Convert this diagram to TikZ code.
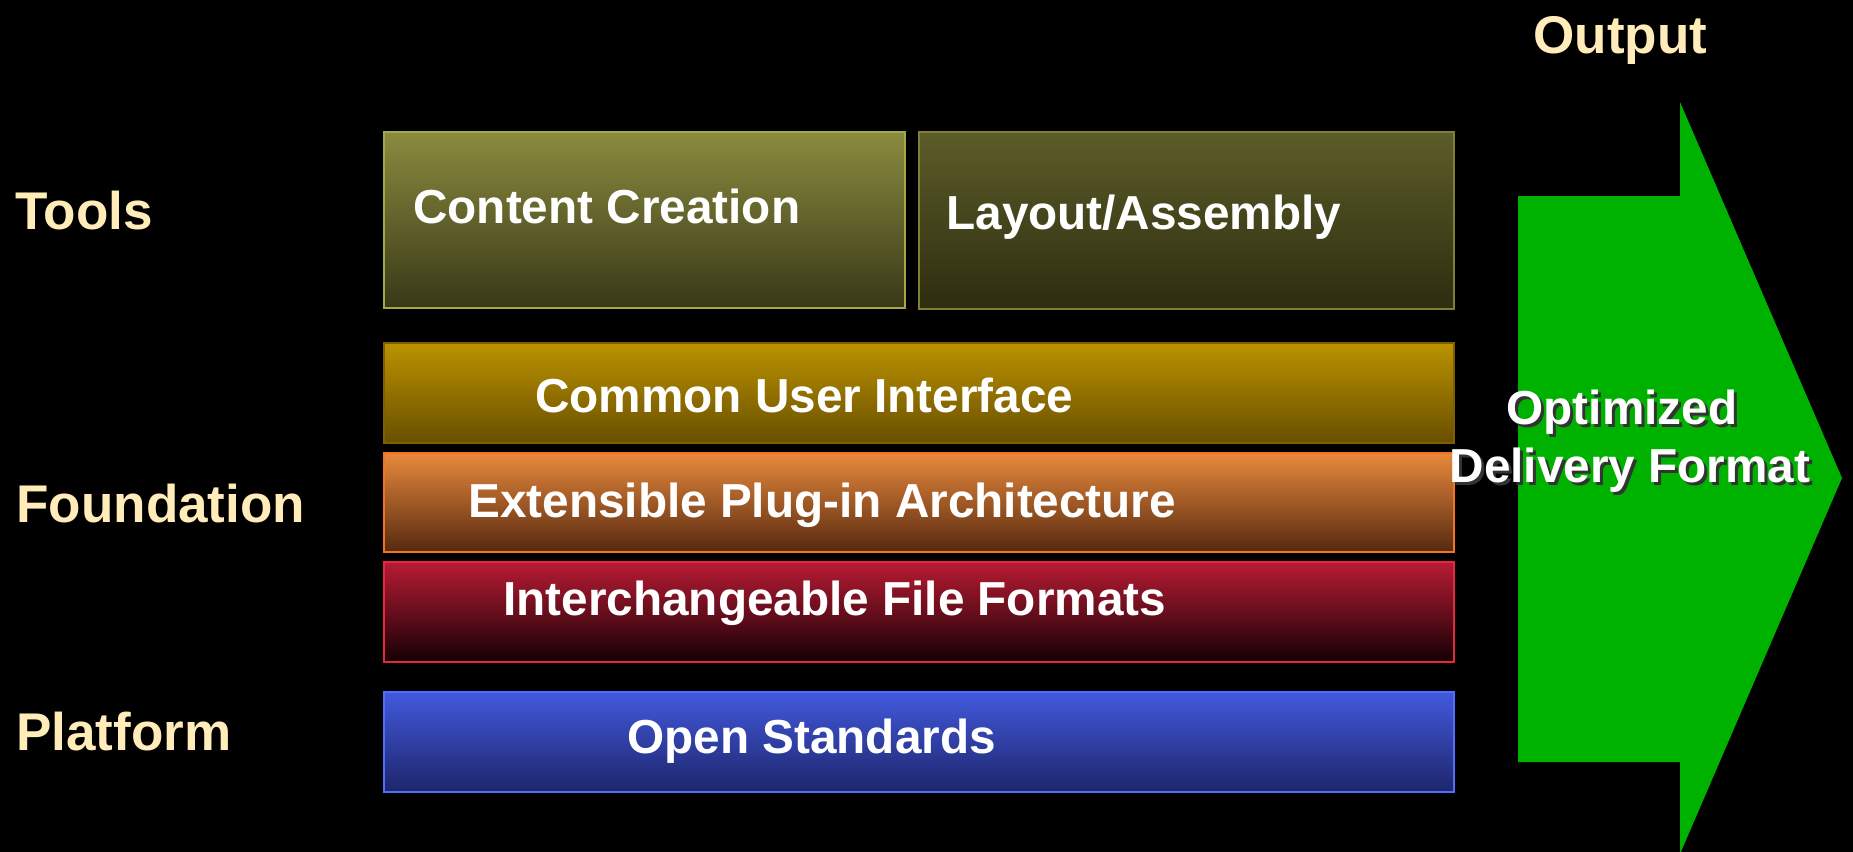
\documentclass[tikz,border=0pt]{standalone}
\usepackage{fontspec}
\setmainfont{Liberation Sans}
\definecolor{lblcream}{RGB}{255,236,185}
\definecolor{cctop}{RGB}{139,139,63}
\definecolor{ccbot}{RGB}{56,56,24}
\definecolor{ccedge}{RGB}{166,166,74}
\definecolor{latop}{RGB}{92,92,41}
\definecolor{labot}{RGB}{45,45,16}
\definecolor{laedge}{RGB}{127,127,56}
\definecolor{cuitop}{RGB}{188,146,0}
\definecolor{cuibot}{RGB}{104,79,0}
\definecolor{cuiedge}{RGB}{125,96,0}
\definecolor{plugtop}{RGB}{232,137,60}
\definecolor{plugbot}{RGB}{86,41,15}
\definecolor{plugedge}{RGB}{244,115,33}
\definecolor{filetop}{RGB}{184,27,51}
\definecolor{filebot}{RGB}{21,0,5}
\definecolor{fileedge}{RGB}{230,40,60}
\definecolor{stdtop}{RGB}{66,89,221}
\definecolor{stdbot}{RGB}{29,37,106}
\definecolor{stdedge}{RGB}{79,109,255}
\definecolor{outgreen}{RGB}{0,178,0}
\usetikzlibrary{fit}

\begin{document}
\begin{tikzpicture}[
  x=0.02cm, y=-0.02cm,
  layer/.style={rectangle, inner sep=0pt, line width=1.4pt},
  intext/.style={font=\fontsize{27.15}{32}\selectfont\bfseries,
                 text=white, inner sep=0pt, anchor=base west},
  rowlbl/.style={font=\fontsize{30.2}{36}\selectfont\bfseries,
                 text=lblcream, inner sep=0pt, anchor=base west},
  outtext/.style={font=\fontsize{27.15}{32}\selectfont\bfseries,
                  inner sep=0pt, anchor=base}
]
% Background
\useasboundingbox (0,0) rectangle (1853,852);
\fill[black] (0,0) rectangle (1853,852);

% Row labels
\node[rowlbl] (tools) at (15,229) {Tools};
\node[rowlbl] (found) at (16,522) {Foundation};
\node[rowlbl] (platf) at (16,750) {Platform};
\node[rowlbl] (outp)  at (1533,53) {Output};

% Layer boxes
\node[layer, fit={(384,132) (905,308)},  draw=ccedge,   top color=cctop,   bottom color=ccbot]   (content) {};
\node[layer, fit={(919,132) (1454,309)}, draw=laedge,   top color=latop,   bottom color=labot]   (layout)  {};
\node[layer, fit={(384,343) (1454,443)}, draw=cuiedge,  top color=cuitop,  bottom color=cuibot]  (cui)     {};
\node[layer, fit={(384,453) (1454,552)}, draw=plugedge, top color=plugtop, bottom color=plugbot] (plugin)  {};
\node[layer, fit={(384,562) (1454,662)}, draw=fileedge, top color=filetop, bottom color=filebot] (files)   {};
\node[layer, fit={(384,692) (1454,792)}, draw=stdedge,  top color=stdtop,  bottom color=stdbot]  (stds)    {};

% Box texts
\node[intext] (contentlbl) at (413,223) {Content Creation};
\node[intext] (layoutlbl)  at (946,229) {Layout/Assembly};
\node[intext] (cuilbl)     at (535,412) {Common User Interface};
\node[intext] (pluginlbl)  at (468,517) {Extensible Plug-in Architecture};
\node[intext] (fileslbl)   at (503,615) {Interchangeable File Formats};
\node[intext] (stdslbl)    at (627,753) {Open Standards};

% Output arrow
\fill[outgreen] (1518,196) -- (1680,196) -- (1680,102) -- (1842,478)
  -- (1680,854) -- (1680,762) -- (1518,762) -- cycle;

% Arrow text with drop shadow
\node[outtext, text=black!80] (optsh) at (1625,427) {Optimized};
\node[outtext, text=black!80] (delsh) at (1633,485) {Delivery Format};
\node[outtext, text=white]    (opt)   at (1622,424) {Optimized};
\node[outtext, text=white]    (del)   at (1630,482) {Delivery Format};
\end{tikzpicture}
\end{document}
